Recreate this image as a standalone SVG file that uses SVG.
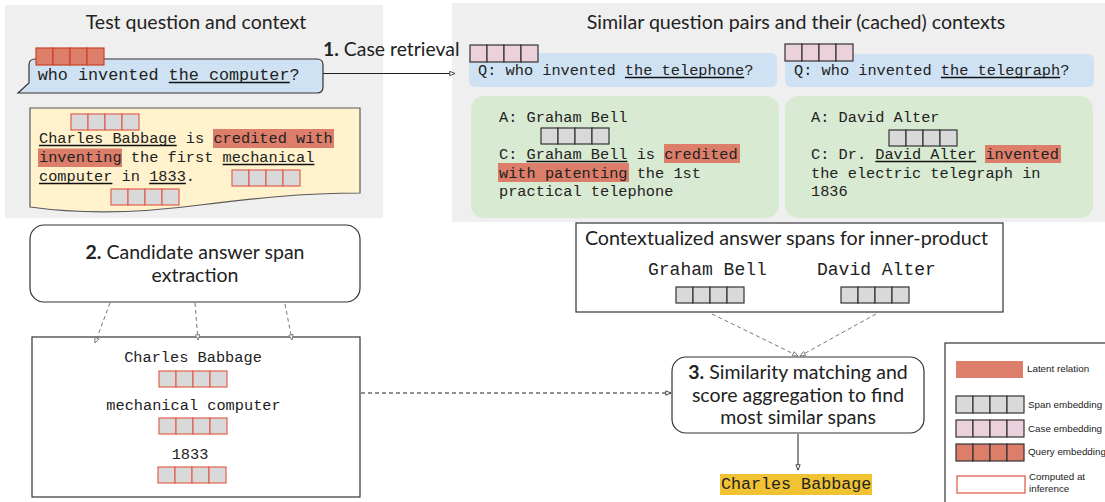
<svg xmlns="http://www.w3.org/2000/svg" xmlns:xlink="http://www.w3.org/1999/xlink" width="1105" height="502" viewBox="0 0 1105 502">
<style>
.bg{fill:#efefef}
.mono{font-family:"Liberation Mono","Courier New",monospace;fill:#222}
.lato{font-family:Lato,"Noto Sans",sans-serif;fill:#222}
.leg{font-family:"Liberation Sans",Arial,sans-serif;font-size:9.8px;fill:#222}
.ul{stroke:#111;stroke-width:1.6}
.hl{fill:#dd7e6b}
.box{fill:#fff;stroke:#333;stroke-width:1.2}
.dash{fill:none;stroke:#777;stroke-width:1;stroke-dasharray:4 3}
.dashk{fill:none;stroke:#222;stroke-width:1;stroke-dasharray:4 3}
.solid{fill:none;stroke:#222;stroke-width:1}
</style>
<defs>
<marker id="ah" viewBox="0 0 8 8" refX="7" refY="4" markerWidth="7" markerHeight="7" markerUnits="userSpaceOnUse" orient="auto">
<path d="M1,1.5 L7,4 L1,6.5 Z" fill="#fff" stroke="#333" stroke-width="1"/>
</marker>
<marker id="ahg" viewBox="0 0 8 8" refX="7" refY="4" markerWidth="7" markerHeight="7" markerUnits="userSpaceOnUse" orient="auto">
<path d="M1,1.5 L7,4 L1,6.5 Z" fill="#fff" stroke="#777" stroke-width="1"/>
</marker>
<g id="emb-q" fill="#dd7e6b" stroke="#cc4125" stroke-width="1.2">
<rect x="0" y="0" width="17" height="17"/><rect x="17" y="0" width="17" height="17"/><rect x="34" y="0" width="17" height="17"/><rect x="51" y="0" width="17" height="17"/>
</g>
<g id="emb-qk" fill="#dd7e6b" stroke="#333" stroke-width="1.2">
<rect x="0" y="0" width="17" height="17"/><rect x="17" y="0" width="17" height="17"/><rect x="34" y="0" width="17" height="17"/><rect x="51" y="0" width="17" height="17"/>
</g>
<g id="emb-c" fill="#ead1dc" stroke="#333" stroke-width="1.2">
<rect x="0" y="0" width="17" height="17"/><rect x="17" y="0" width="17" height="17"/><rect x="34" y="0" width="17" height="17"/><rect x="51" y="0" width="17" height="17"/>
</g>
<g id="emb-s" fill="#d9d9d9" stroke="#333" stroke-width="1.2">
<rect x="0" y="0" width="17" height="16"/><rect x="17" y="0" width="17" height="16"/><rect x="34" y="0" width="17" height="16"/><rect x="51" y="0" width="17" height="16"/>
</g>
<g id="emb-sl" fill="#d9d9d9" stroke="#333" stroke-width="1.2">
<rect x="0" y="0" width="17" height="17"/><rect x="17" y="0" width="17" height="17"/><rect x="34" y="0" width="17" height="17"/><rect x="51" y="0" width="17" height="17"/>
</g>
<g id="emb-sr" fill="#d9d9d9" stroke="#e0604e" stroke-width="1.2">
<rect x="0" y="0" width="17" height="16"/><rect x="17" y="0" width="17" height="16"/><rect x="34" y="0" width="17" height="16"/><rect x="51" y="0" width="17" height="16"/>
</g>
</defs>

<rect width="1105" height="502" fill="#fff"/>

<g id="test-panel">
<rect class="bg" x="5" y="5" width="378" height="213"/>
<text class="lato" x="196" y="29" font-size="19.5" text-anchor="middle">Test question and context</text>
</g>

<g id="similar-panel">
<rect class="bg" x="452" y="3" width="653" height="219"/>
<text class="lato" x="796" y="29" font-size="19.6" text-anchor="middle">Similar question pairs and their (cached) contexts</text>
</g>

<g id="test-question">
<path d="M35,59 H317 Q323,59 323,65 V87 Q323,93 317,93 H33 L18,93 L29,83 V65 Q29,59 35,59 Z" fill="#cfe2f3" stroke="#333" stroke-width="1.2"/>
<use href="#emb-q" x="36" y="48"/>
<text class="mono" x="37.7" y="80" font-size="16.8">who invented the computer?</text>
<line class="ul" x1="168.8" y1="82.5" x2="289.8" y2="82.5"/>
</g>

<g id="test-context">
<path d="M30,108 H360 V193 C300,193 250,199 200,205 C140,213 80,214 30,207 Z" fill="#fff2cc" stroke="#595959" stroke-width="1.2"/>
<rect class="hl" x="213" y="129" width="121" height="19"/>
<rect class="hl" x="38" y="148.5" width="84" height="18.5"/>
<use href="#emb-sr" x="71" y="114"/>
<use href="#emb-sr" x="232" y="170"/>
<use href="#emb-sr" x="111" y="189"/>
<text class="mono" x="39" y="143" font-size="15.3">Charles Babbage is credited with</text>
<text class="mono" x="39" y="162" font-size="15.3">inventing the first mechanical</text>
<text class="mono" x="39" y="181" font-size="15.3">computer in 1833.</text>
<line class="ul" x1="39" y1="145.5" x2="176.7" y2="145.5"/>
<line class="ul" x1="222.6" y1="164.5" x2="314.4" y2="164.5"/>
<line class="ul" x1="39" y1="183.5" x2="112.4" y2="183.5"/>
<line class="ul" x1="149.2" y1="183.5" x2="185.9" y2="183.5"/>
</g>

<g id="case-retrieval-label">
<text class="lato" x="323" y="56" font-size="19.4"><tspan font-weight="bold">1.</tspan> Case retrieval</text>
</g>

<g id="case-q1">
<rect x="469" y="53" width="308" height="34" rx="6" fill="#cfe2f3"/>
<use href="#emb-c" x="470" y="45"/>
<text class="mono" x="478" y="75" font-size="15.3">Q: who invented the telephone?</text>
<line class="ul" x1="624.9" y1="77.5" x2="744.2" y2="77.5"/>
</g>

<g id="case-q2">
<rect x="785" y="54" width="309" height="33" rx="6" fill="#cfe2f3"/>
<use href="#emb-c" x="785" y="44"/>
<text class="mono" x="794" y="75" font-size="15.3">Q: who invented the telegraph?</text>
<line class="ul" x1="940.9" y1="77.5" x2="1060.2" y2="77.5"/>
</g>

<g id="case-c1">
<rect x="471" y="96" width="308" height="122" rx="13" fill="#d9ead3"/>
<rect class="hl" x="664" y="144" width="76" height="19"/>
<rect class="hl" x="498" y="163" width="131" height="19"/>
<use href="#emb-s" x="541" y="128"/>
<text class="mono" x="499" y="122" font-size="15.3">A: Graham Bell</text>
<text class="mono" x="499" y="159" font-size="15.3">C: Graham Bell is credited</text>
<text class="mono" x="499" y="178" font-size="15.3">with patenting the 1st</text>
<text class="mono" x="499" y="196" font-size="15.3">practical telephone</text>
<line class="ul" x1="526.5" y1="161.5" x2="627.5" y2="161.5"/>
</g>

<g id="case-c2">
<rect x="785" y="96" width="308" height="122" rx="13" fill="#d9ead3"/>
<rect class="hl" x="985" y="145" width="76" height="18"/>
<use href="#emb-s" x="889" y="130"/>
<text class="mono" x="811" y="122" font-size="15.3">A: David Alter</text>
<text class="mono" x="811" y="159" font-size="15.3">C: Dr. David Alter invented</text>
<text class="mono" x="811" y="178" font-size="15.3">the electric telegraph in</text>
<text class="mono" x="811" y="196" font-size="15.3">1836</text>
<line class="ul" x1="875.3" y1="161.5" x2="976.2" y2="161.5"/>
</g>

<g id="step2">
<rect class="box" x="30" y="225" width="330" height="77" rx="14"/>
<text class="lato" x="195" y="259" font-size="19.5" text-anchor="middle"><tspan font-weight="bold">2.</tspan> Candidate answer span</text>
<text class="lato" x="195" y="282" font-size="19.5" text-anchor="middle">extraction</text>
</g>

<g id="candidates">
<rect class="box" x="32" y="337" width="328" height="160"/>
<text class="mono" x="193" y="362" font-size="15.3" text-anchor="middle">Charles Babbage</text>
<use href="#emb-sr" x="159" y="371"/>
<text class="mono" x="193.5" y="410" font-size="15.3" text-anchor="middle">mechanical computer</text>
<use href="#emb-sr" x="159" y="418"/>
<text class="mono" x="190" y="459" font-size="15.3" text-anchor="middle">1833</text>
<use href="#emb-sr" x="158" y="467"/>
</g>

<g id="contextualized">
<rect class="box" x="576" y="223" width="427" height="89"/>
<text class="lato" x="786.5" y="245" font-size="19.7" text-anchor="middle">Contextualized answer spans for inner-product</text>
<text class="mono" x="648" y="275" font-size="18">Graham Bell</text>
<text class="mono" x="817" y="275" font-size="18">David Alter</text>
<use href="#emb-s" x="676" y="287"/>
<use href="#emb-s" x="841" y="287"/>
</g>

<g id="step3">
<rect class="box" x="672" y="357" width="252" height="76" rx="14"/>
<text class="lato" x="798" y="379" font-size="19.5" text-anchor="middle"><tspan font-weight="bold">3.</tspan> Similarity matching and</text>
<text class="lato" x="798" y="402" font-size="19.5" text-anchor="middle">score aggregation to find</text>
<text class="lato" x="798" y="424" font-size="19.5" text-anchor="middle">most similar spans</text>
</g>

<g id="answer">
<rect x="720" y="474" width="152" height="21" fill="#f1c232"/>
<text class="mono" x="721" y="489" font-size="16.7">Charles Babbage</text>
</g>

<g id="legend">
<rect class="box" x="945" y="343" width="175" height="175"/>
<rect x="956" y="361" width="67" height="17" fill="#dd7e6b"/>
<text class="leg" x="1027" y="372">Latent relation</text>
<use href="#emb-sl" x="956" y="396"/>
<text class="leg" x="1028" y="408">Span embedding</text>
<use href="#emb-c" x="956" y="420"/>
<text class="leg" x="1028" y="431.5">Case embedding</text>
<use href="#emb-qk" x="956" y="444"/>
<text class="leg" x="1028" y="455">Query embedding</text>
<rect x="957" y="476" width="68" height="17" fill="#fff" stroke="#e0604e" stroke-width="1.3"/>
<text class="leg" x="1029" y="480">Computed at</text>
<text class="leg" x="1029" y="492">inference</text>
</g>

<g id="connectors">
<line class="solid" x1="323" y1="73.5" x2="455" y2="73.5" marker-end="url(#ah)"/>
<line class="dash" x1="110" y1="303" x2="95" y2="343" marker-end="url(#ahg)"/>
<line class="dash" x1="195" y1="303" x2="198" y2="340" marker-end="url(#ahg)"/>
<line class="dash" x1="285" y1="304" x2="292" y2="340" marker-end="url(#ahg)"/>
<line class="dashk" x1="361" y1="393" x2="671" y2="393" marker-end="url(#ah)"/>
<line class="dash" x1="712" y1="314" x2="798" y2="356" marker-end="url(#ahg)"/>
<line class="dash" x1="876" y1="314" x2="800" y2="356" marker-end="url(#ahg)"/>
<line class="solid" x1="798" y1="434" x2="798" y2="470" marker-end="url(#ah)"/>
</g>
</svg>
